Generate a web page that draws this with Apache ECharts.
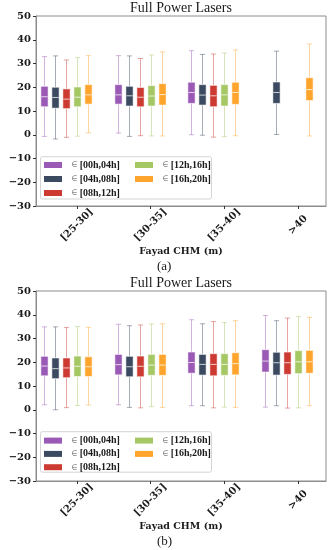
<!DOCTYPE html>
<html><head><meta charset="utf-8">
<script src="https://cdn.jsdelivr.net/npm/echarts@6/dist/echarts.min.js"></script>
<style>html,body{margin:0;padding:0;background:#fff}#c{width:331px;height:550px}</style>
</head><body><div id="c"></div>
<script>
// Categories (x axis) and series (hour ranges)
const categories = ['[25-30]', '[30-35]', '[35-40]', '>40'];
const seriesNames = ['[00h,04h]', '[04h,08h]', '[08h,12h]', '[12h,16h]', '[16h,20h]'];
const seriesColors = ['#9b59b6', '#3b4a60', '#cc3a32', '#a5c865', '#ffa42c'];
const yTickMin = -30, yTickMax = 50, yTickStep = 10;

// Each value: [min, Q1, median, Q3, max] for each category; null = no box
// Panel (a)
const a_00_04 = [[-0.7, 11.8, 16.0, 20.4, 32.9], [0.7, 12.9, 16.8, 21.1, 33.3], [0.0, 13.2, 17.8, 22.1, 35.4], null];
const a_04_08 = [[-1.8, 11.2, 15.7, 20.0, 33.2], [-0.7, 12.1, 16.4, 20.4, 33.2], [-0.2, 12.5, 16.7, 21.1, 33.8], [0.1, 13.2, 17.8, 22.2, 35.2]];
const a_08_12 = [[-1.1, 11.0, 15.0, 19.3, 31.5], [-0.4, 11.8, 15.8, 19.9, 32.1], [-1.0, 11.8, 16.4, 20.8, 34.0], null];
const a_12_16 = [[-0.6, 11.8, 15.8, 20.1, 32.5], [-0.5, 12.1, 16.3, 20.7, 33.6], [-0.8, 12.1, 16.8, 21.1, 34.4], null];
const a_16_20 = [[0.8, 12.9, 16.8, 21.1, 33.3], [-0.5, 12.5, 16.9, 21.5, 34.9], [-0.4, 12.8, 17.8, 22.1, 35.7], [-0.5, 14.4, 19.0, 24.0, 38.2]];
// Panel (b)
const b_00_04 = [[2.1, 14.3, 18.4, 22.5, 34.9], [2.1, 14.7, 19.0, 23.3, 36.0], [1.7, 15.4, 19.9, 24.3, 37.9], [1.1, 15.9, 20.5, 25.3, 39.7]];
const b_04_08 = [[0.0, 13.1, 17.3, 21.8, 34.9], [1.0, 13.9, 18.1, 22.5, 35.4], [1.7, 14.6, 19.1, 23.3, 36.2], [1.7, 14.6, 19.8, 24.2, 37.5]];
const b_08_12 = [[0.9, 13.5, 17.6, 21.8, 34.6], [0.8, 13.9, 18.3, 22.6, 35.7], [0.8, 14.3, 19.1, 23.6, 37.1], [0.7, 14.9, 19.8, 24.3, 38.6]];
const b_12_16 = [[1.8, 14.0, 18.3, 22.6, 35.0], [1.3, 14.5, 18.8, 23.3, 36.1], [1.1, 14.5, 19.1, 23.6, 36.7], [0.8, 15.2, 20.2, 24.9, 39.3]];
const b_16_20 = [[2.0, 14.0, 18.1, 22.3, 34.7], [1.0, 14.5, 18.8, 23.3, 36.2], [1.0, 14.7, 19.4, 24.0, 37.5], [1.7, 15.4, 20.2, 25.0, 38.9]];

const panels = [
  { title: 'Full Power Lasers', label: '(a)', data: [a_00_04, a_04_08, a_08_12, a_12_16, a_16_20] },
  { title: 'Full Power Lasers', label: '(b)', data: [b_00_04, b_04_08, b_08_12, b_12_16, b_16_20] }
];

// layout constants
const GRID_LEFT = 36, GRID_W = 290, GRID_H = 190;
const GRID_TOPS = [16, 291];
const X_MIN = -0.556, X_MAX = 3.38;
const STEP = 0.149;      // offset between boxes in a group (axis units)
const ANCHOR = 3;        // tick sits on the 4th box
const BOX_W = 0.098, CAP_W = 0.07;

const serifB = 'DejaVu Serif';
const serifT = 'Liberation Serif';

function hexA(hex, a) {
  const n = parseInt(hex.slice(1), 16);
  return 'rgba(' + (n >> 16 & 255) + ',' + (n >> 8 & 255) + ',' + (n & 255) + ',' + a + ')';
}

function makeRender(color) {
  return function (params, api) {
    const x = api.value(0);
    const pMin = api.coord([x, api.value(1)]);
    const pQ1 = api.coord([x, api.value(2)]);
    const pMed = api.coord([x, api.value(3)]);
    const pQ3 = api.coord([x, api.value(4)]);
    const pMax = api.coord([x, api.value(5)]);
    const bw = api.size([BOX_W, 0])[0];
    const cw = api.size([CAP_W, 0])[0];
    const cx = Math.round(pMed[0]) + 0.5;
    const wc = hexA(color, 0.45);
    const line = (x1, y1, x2, y2, stroke) => ({
      type: 'line', shape: { x1, y1, x2, y2 }, style: { stroke, lineWidth: 1 }
    });
    return {
      type: 'group',
      children: [
        line(cx, pMax[1], cx, pQ3[1], wc),
        line(cx, pQ1[1], cx, pMin[1], wc),
        line(cx - cw / 2, pMax[1], cx + cw / 2, pMax[1], wc),
        line(cx - cw / 2, pMin[1], cx + cw / 2, pMin[1], wc),
        {
          type: 'rect',
          shape: { x: cx - bw / 2, y: pQ3[1], width: bw, height: pQ1[1] - pQ3[1] },
          style: { fill: color, stroke: 'rgba(255,255,255,0.55)', lineWidth: 1 }
        },
        line(cx - bw / 2 + 0.5, pMed[1], cx + bw / 2 - 0.5, pMed[1], 'rgba(255,255,255,0.75)')
      ]
    };
  };
}

const grids = [], xAxes = [], yAxes = [], series = [], titles = [], legends = [], graphics = [];

panels.forEach((p, pi) => {
  const top = GRID_TOPS[pi];
  grids.push({ left: GRID_LEFT, top: top, width: GRID_W, height: GRID_H, show: true,
    containLabel: false, outerBoundsMode: 'none',
    borderColor: '#8c8c8c', borderWidth: 1, backgroundColor: 'transparent' });
  xAxes.push({
    type: 'value', gridIndex: pi, min: X_MIN, max: X_MAX,
    name: 'Fayad CHM (m)', nameLocation: 'middle', nameGap: 35,
    nameTextStyle: { fontFamily: serifB, fontWeight: 'bold', fontSize: 9.5, color: '#1a1a1a' },
    axisLine: { show: true, onZero: false, lineStyle: { color: '#8c8c8c' } },
    splitLine: { show: false },
    axisTick: { show: true, customValues: categories.map((c, i) => i), length: 3, lineStyle: { color: '#333' } },
    axisLabel: {
      customValues: categories.map((c, i) => i),
      formatter: v => categories[Math.round(v)],
      rotate: 45, align: 'center', verticalAlign: 'middle', margin: 19,
      fontFamily: serifB, fontWeight: 'bold', fontSize: 10, color: '#1a1a1a'
    }
  });
  yAxes.push({
    type: 'value', gridIndex: pi, min: yTickMin, max: yTickMax, interval: yTickStep,
    name: 'EHR - SRTM (m)', nameLocation: 'middle', nameGap: 24,
    nameTextStyle: { fontFamily: serifB, fontWeight: 'bold', fontSize: 10, color: '#1a1a1a', padding: [0, 0, 0, 12] },
    axisLine: { show: true, onZero: false, lineStyle: { color: '#8c8c8c' } },
    splitLine: { show: false },
    axisTick: { show: true, length: 3, lineStyle: { color: '#333' } },
    axisLabel: {
      margin: 5, fontFamily: serifB, fontWeight: 'bold', fontSize: 10, color: '#1a1a1a',
      formatter: v => String(v).replace('-', '\u2212')
    }
  });
  titles.push({
    text: p.title, left: GRID_LEFT + GRID_W / 2, textAlign: 'center', top: top - 15, padding: 0,
    textStyle: { fontFamily: serifT, fontSize: 14, fontWeight: 'normal', color: '#1a1a1a' }
  });
  p.data.forEach((arr, si) => {
    const data = [];
    arr.forEach((v, ci) => {
      if (v) data.push([ci + (si - ANCHOR) * STEP].concat(v));
    });
    series.push({
      type: 'custom', name: seriesNames[si], xAxisIndex: pi, yAxisIndex: pi,
      itemStyle: { color: seriesColors[si] },
      encode: { x: 0, y: [1, 2, 3, 4, 5] },
      renderItem: makeRender(seriesColors[si]),
      data: data
    });
  });
  const legendTop = top + (pi === 0 ? 143 : 143.6);
  const gap = pi === 0 ? 2 : 1.3;
  const legendText = {
    rich: {
      e: { fontFamily: serifB, fontSize: 9, color: '#888', padding: [0, 2, 0, 4] },
      t: { fontFamily: serifT, fontWeight: 'bold', fontSize: 10, color: '#1a1a1a' }
    },
    lineHeight: 12
  };
  [[0, 1, 2], [3, 4]].forEach((idxs, col) => {
    legends.push({
      orient: 'vertical', left: col === 0 ? 44 : 135, top: legendTop, padding: 0,
      itemWidth: 18, itemHeight: 6, itemGap: gap, icon: 'rect',
      data: idxs.map(i => seriesNames[i]),
      formatter: n => '{e|\u2208}{t|' + n + '}',
      textStyle: legendText,
      selectedMode: false
    });
  });
  graphics.push({
    type: 'rect', z: 1,
    shape: { x: 40.5, y: top + 140.7, width: 171, height: pi === 0 ? 42.3 : 40.5, r: 2 },
    style: { fill: 'rgba(255,255,255,0.85)', stroke: '#d4d4d4', lineWidth: 1 }
  });
  graphics.push({
    type: 'text', left: 157, top: pi === 0 ? 260 : 535, z: 1,
    style: { text: p.label, font: '13px "Liberation Serif"', fill: '#1a1a1a' }
  });
});

const chart = echarts.init(document.getElementById('c'), null, { renderer: 'canvas' });
chart.setOption({
  animation: false,
  backgroundColor: '#fff',
  title: titles,
  grid: grids,
  xAxis: xAxes,
  yAxis: yAxes,
  legend: legends,
  graphic: graphics,
  series: series
});
</script>
</body></html>
